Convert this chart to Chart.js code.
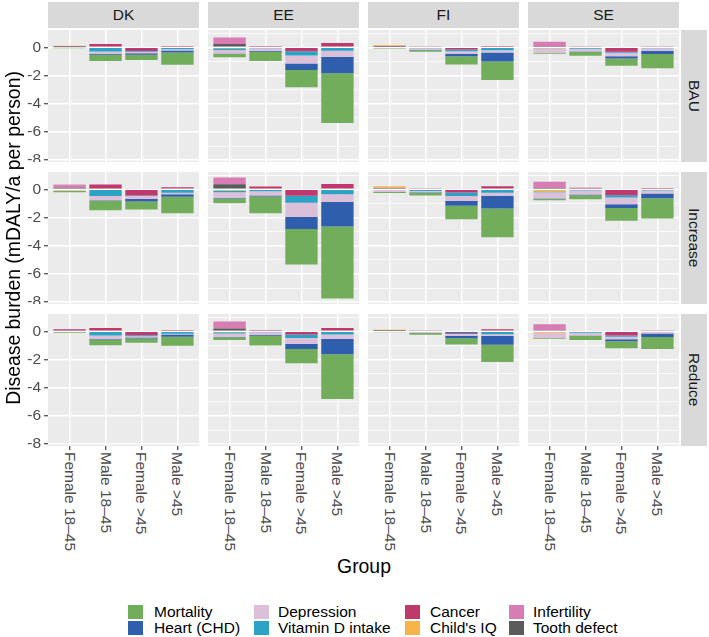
<!DOCTYPE html>
<html>
<head>
<meta charset="utf-8">
<script src="https://cdn.jsdelivr.net/npm/chart.js@4.4.1/dist/chart.umd.min.js"></script>
<style>
  body { margin: 0; background: #fff; font-family: "Liberation Sans", Arial, sans-serif; }
  #wrap { position: relative; width: 709px; height: 637px; overflow: hidden; }
  #wrap canvas { position: absolute; }
  .strip { position: absolute; background: #d9d9d9; color: #1a1a1a; font-size: 15.5px;
           display: flex; align-items: center; justify-content: center; }
  .vstrip { writing-mode: vertical-rl; }
  .xlab { position: absolute; writing-mode: vertical-rl; font-size: 15.5px; color: #4d4d4d;
          line-height: 18px; width: 18px; white-space: nowrap; }
  .title { position: absolute; font-size: 19.4px; color: #000; text-align: center; white-space: nowrap; }
  .key { position: absolute; width: 15px; height: 14px; }
  .keytxt { position: absolute; font-size: 15.5px; color: #000; line-height: 16px; white-space: nowrap; }
</style>
</head>
<body>
<div id="wrap"></div>
<script>
// facets and categories
const countries = ['DK', 'EE', 'FI', 'SE'];
const scenarios = ['BAU', 'Increase', 'Reduce'];
const groups = ['Female 18–45', 'Male 18–45', 'Female >45', 'Male >45'];
const causes = ['Mortality', 'Heart (CHD)', 'Depression', 'Vitamin D intake', 'Cancer', "Child's IQ", 'Infertility', 'Tooth defect'];
const causeColors = ['#72ad5c', '#2f5fac', '#dcc0da', '#2aa3c4', '#c0396c', '#f7b449', '#d87cb4', '#5b5b5b'];
const yTicks = [-8, -7, -6, -5, -4, -3, -2, -1, 0, 1];

// mDALY/a per person, one row per cause (order of `causes`), one column per group
const dkBAU = [
  [-0.04, -0.45, -0.38, -0.88],
  [0, -0.06, -0.10, -0.14],
  [-0.03, -0.17, -0.11, -0.08],
  [0, -0.29, -0.05, -0.14],
  [0, 0.24, -0.26, 0.10],
  [0.03, 0, 0, 0],
  [0.05, 0, 0, 0],
  [0.03, 0, 0, 0]
];
const eeBAU = [
  [-0.25, -0.65, -1.23, -3.52],
  [-0.02, -0.06, -0.46, -1.17],
  [-0.26, -0.20, -0.57, -0.42],
  [-0.12, -0.06, -0.30, -0.25],
  [0, 0.10, -0.27, 0.30],
  [-0.06, 0, 0, 0],
  [0.45, 0, 0, 0],
  [0.24, 0, 0, 0]
];
const fiBAU = [
  [-0.04, -0.12, -0.57, -1.31],
  [0, -0.03, -0.17, -0.64],
  [-0.06, -0.10, -0.19, -0.17],
  [0, -0.07, -0.13, -0.20],
  [0, 0.05, -0.15, 0.10],
  [0.07, 0, 0, 0],
  [0.05, 0, 0, 0],
  [0.02, 0, 0, 0]
];
const seBAU = [
  [-0.06, -0.27, -0.52, -1.00],
  [0, -0.03, -0.15, -0.24],
  [-0.30, -0.20, -0.26, -0.17],
  [-0.02, -0.10, -0.07, -0.07],
  [0, 0.05, -0.31, 0.08],
  [-0.07, 0, 0, 0],
  [0.34, 0, 0, 0],
  [0.05, 0, 0, 0]
];
const dkIncrease = [
  [-0.08, -0.67, -0.57, -1.18],
  [0, -0.03, -0.18, -0.18],
  [-0.05, -0.30, -0.20, -0.10],
  [0, -0.48, -0.05, -0.24],
  [0.06, 0.34, -0.43, 0.15],
  [-0.07, 0, 0, 0],
  [0.15, 0, 0, 0],
  [0.12, 0, 0, 0]
];
const eeIncrease = [
  [-0.33, -1.20, -2.52, -5.10],
  [-0.05, -0.06, -0.86, -1.74],
  [-0.40, -0.30, -1.00, -0.55],
  [-0.12, -0.14, -0.49, -0.35],
  [0, 0.20, -0.46, 0.38],
  [-0.08, 0, 0, 0],
  [0.48, 0, 0, 0],
  [0.36, 0, 0, 0]
];
const fiIncrease = [
  [-0.07, -0.20, -0.96, -2.04],
  [0, -0.04, -0.33, -0.91],
  [-0.19, -0.08, -0.35, -0.21],
  [0, -0.12, -0.25, -0.24],
  [0, 0.08, -0.23, 0.22],
  [0.10, 0, 0, 0],
  [0.03, 0, 0, 0],
  [0.09, 0, 0, 0]
];
const seIncrease = [
  [-0.10, -0.30, -0.90, -1.43],
  [-0.03, -0.05, -0.27, -0.34],
  [-0.45, -0.28, -0.48, -0.22],
  [-0.05, -0.08, -0.15, -0.08],
  [0, 0.12, -0.42, 0.10],
  [-0.15, 0, 0, 0],
  [0.43, 0, 0, 0],
  [0.10, 0, 0, 0]
];
const dkReduce = [
  [-0.06, -0.40, -0.30, -0.64],
  [0, -0.03, -0.08, -0.15],
  [-0.04, -0.25, -0.08, -0.06],
  [0, -0.30, -0.07, -0.17],
  [0.06, 0.24, -0.28, 0.10],
  [0, 0, 0, 0],
  [0.05, 0, 0, 0],
  [0.04, 0, 0, 0]
];
const eeReduce = [
  [-0.20, -0.68, -1.00, -3.17],
  [-0.02, -0.06, -0.36, -1.08],
  [-0.25, -0.20, -0.43, -0.32],
  [-0.08, -0.06, -0.25, -0.22],
  [0, 0.10, -0.22, 0.24],
  [-0.07, 0, 0, 0],
  [0.50, 0, 0, 0],
  [0.20, 0, 0, 0]
];
const fiReduce = [
  [-0.02, -0.12, -0.45, -1.22],
  [0, -0.02, -0.18, -0.62],
  [-0.04, -0.06, -0.12, -0.13],
  [0, -0.04, -0.07, -0.20],
  [0, 0.04, -0.12, 0.14],
  [0.06, 0, 0, 0],
  [0.04, 0, 0, 0],
  [0.02, 0, 0, 0]
];
const seReduce = [
  [-0.05, -0.30, -0.50, -0.86],
  [0, -0.02, -0.14, -0.24],
  [-0.38, -0.20, -0.18, -0.12],
  [0, -0.10, -0.08, -0.04],
  [0, 0.06, -0.30, 0.08],
  [-0.10, 0, 0, 0],
  [0.42, 0, 0, 0],
  [0.08, 0, 0, 0]
];

const panelData = {
  DK: { BAU: dkBAU, Increase: dkIncrease, Reduce: dkReduce },
  EE: { BAU: eeBAU, Increase: eeIncrease, Reduce: eeReduce },
  FI: { BAU: fiBAU, Increase: fiIncrease, Reduce: fiReduce },
  SE: { BAU: seBAU, Increase: seIncrease, Reduce: seReduce }
};

// layout (pixels)
const panelLeft = [48, 208, 368, 528];
const panelTop = [30, 172, 314];
const panelW = 151, panelH = 132, axisW = 48, tickLen = 4;

const wrap = document.getElementById('wrap');

// grey panel background under the grid
const panelBg = {
  id: 'panelBg',
  beforeDraw(chart) {
    const { ctx, chartArea: a } = chart;
    ctx.save();
    ctx.fillStyle = '#ebebeb';
    ctx.fillRect(a.left, a.top, a.right - a.left, a.bottom - a.top);
    ctx.restore();
  }
};

function makeDatasets(rows) {
  // ggplot order: first cause furthest from zero, so feed reversed
  const ds = [];
  for (let k = causes.length - 1; k >= 0; k--) {
    ds.push({
      label: causes[k],
      data: groups.map((g, i) => ({ x: i + 1, y: rows[k][i] })),
      backgroundColor: causeColors[k],
      borderWidth: 0
    });
  }
  return ds;
}

function makeChart(canvas, rows, isLeft, isBottom) {
  return new Chart(canvas, {
    type: 'bar',
    data: { datasets: makeDatasets(rows) },
    options: {
      responsive: false,
      animation: false,
      layout: { padding: 0 },
      barPercentage: 0.9,
      categoryPercentage: 1,
      plugins: { legend: { display: false }, tooltip: { enabled: false } },
      scales: {
        x: {
          type: 'linear', min: 0.4, max: 4.6, stacked: true, offset: false,
          afterBuildTicks: s => { s.ticks = groups.map((g, i) => ({ value: i + 1 })); },
          afterFit: s => { s.height = isBottom ? tickLen : 0; s.paddingLeft = 0; s.paddingRight = 0; },
          ticks: { display: false },
          grid: { offset: false, color: '#ffffff', lineWidth: 1.5, drawTicks: isBottom,
                  tickLength: tickLen, tickColor: '#333333', tickWidth: 1.1 },
          border: { display: false }
        },
        y: {
          type: 'linear', min: -8.13, max: 1.23, stacked: true,
          afterBuildTicks: s => { s.ticks = yTicks.map(v => ({ value: v })); },
          afterFit: s => { s.width = isLeft ? axisW : 0; s.paddingTop = 0; s.paddingBottom = 0; },
          ticks: {
            display: isLeft, color: '#4d4d4d', padding: 3,
            font: { family: 'Liberation Sans', size: 15.5 },
            callback: v => (v % 2 === 0 ? String(v) : '')
          },
          grid: {
            color: '#ffffff',
            lineWidth: c => (c.tick && c.tick.value % 2 === 0 ? 1.5 : 0.8),
            drawTicks: isLeft, tickLength: tickLen, tickWidth: 1.1,
            tickColor: c => (c.tick && c.tick.value % 2 === 0 ? '#333333' : 'rgba(0,0,0,0)')
          },
          border: { display: false }
        }
      }
    },
    plugins: [panelBg]
  });
}

function addDiv(cls, text, style) {
  const d = document.createElement('div');
  d.className = cls;
  d.textContent = text;
  Object.assign(d.style, style);
  wrap.appendChild(d);
  return d;
}

// panels
scenarios.forEach((sc, r) => {
  countries.forEach((cn, c) => {
    const isLeft = c === 0, isBottom = r === scenarios.length - 1;
    const cv = document.createElement('canvas');
    const w = panelW + (isLeft ? axisW : 0);
    const h = panelH + (isBottom ? tickLen : 0);
    cv.width = w; cv.height = h;
    cv.style.width = w + 'px'; cv.style.height = h + 'px';
    cv.style.left = (panelLeft[c] - (isLeft ? axisW : 0)) + 'px';
    cv.style.top = panelTop[r] + 'px';
    wrap.appendChild(cv);
    const chart = makeChart(cv, panelData[cn][sc], isLeft, isBottom);
    if (isBottom) {
      const xs = chart.scales.x;
      groups.forEach((g, i) => {
        const px = xs.getPixelForValue(i + 1) + (panelLeft[c] - (isLeft ? axisW : 0));
        addDiv('xlab', g, { left: (px - 9) + 'px', top: (panelTop[r] + panelH + tickLen + 2) + 'px' });
      });
    }
  });
});

// strips
countries.forEach((cn, c) => {
  addDiv('strip', cn, { left: panelLeft[c] + 'px', top: '2px', width: panelW + 'px', height: '26px' });
});
scenarios.forEach((sc, r) => {
  const d = addDiv('strip vstrip', sc, { left: '681px', top: panelTop[r] + 'px', width: '26px', height: panelH + 'px' });
});

// axis titles
addDiv('title', 'Disease burden (mDALY/a per person)', {
  left: (13 - 200) + 'px', top: (238 - 12) + 'px', width: '400px', lineHeight: '24px', transform: 'rotate(-90deg)'
});
addDiv('title', 'Group', { left: (364 - 100) + 'px', top: '554px', width: '200px', lineHeight: '24px' });

// legend
const keyX = [128, 254, 405, 509];
const txtX = [154, 278, 430, 533];
const keyY = [605, 621];
causes.forEach((name, k) => {
  const col = Math.floor(k / 2), row = k % 2;
  addDiv('key', '', { left: keyX[col] + 'px', top: keyY[row] + 'px', background: causeColors[k] });
  addDiv('keytxt', name, { left: txtX[col] + 'px', top: (keyY[row] - 1) + 'px' });
});
</script>
</body>
</html>
